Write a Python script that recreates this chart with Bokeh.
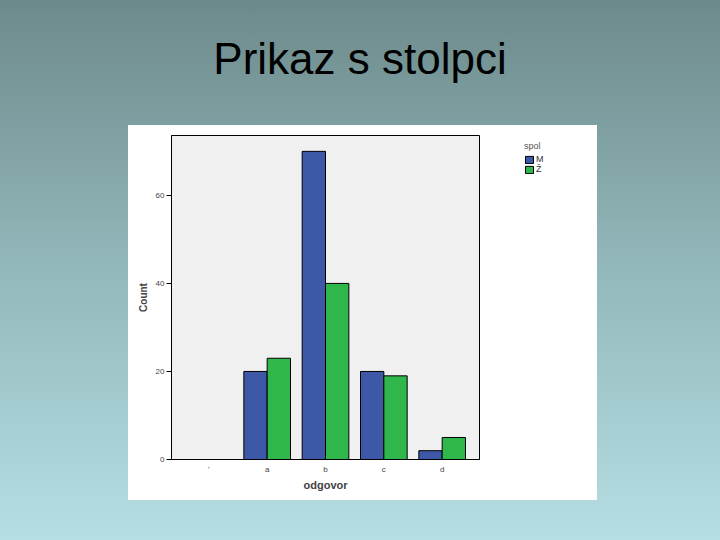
from bokeh.plotting import figure
from bokeh.models import (ColumnDataSource, FactorRange, Range1d, Legend, LegendItem,
                          Div, FixedTicker, GlobalInlineStyleSheet)
from bokeh.layouts import column, row
from bokeh.transform import dodge
from bokeh.embed import file_html
from bokeh.resources import INLINE

# ---- data ----
categories = ["'", "a", "b", "c", "d"]
counts_m = [0, 20, 70, 20, 2]
counts_z = [0, 23, 40, 19, 5]
series_names = ["M", "Ž"]
series_colors = ["#3e58a8", "#2fb74b"]
y_ticks = [0, 20, 40, 60]
title_text = "Prikaz s stolpci"
legend_title = "spol"

source = ColumnDataSource(dict(cat=categories, m=counts_m, z=counts_z))

page_css = GlobalInlineStyleSheet(css="""
html { min-height: 100%; background: linear-gradient(to bottom, #6d8a8b 0%, #93b8bb 50%, #b5dee3 100%) fixed; }
body { background: transparent; }
""")

title = Div(
    text=f'<div style="font-family:\'Liberation Sans\',Arial,sans-serif;font-size:44px;line-height:44px;'
         f'margin-top:37px;margin-left:8px;text-align:center;color:#000;width:704px;">{title_text}</div>',
    width=704, height=110, margin=0)

# ---- main chart ----
p = figure(x_range=FactorRange(factors=categories, range_padding=0.14, range_padding_units="absolute"),
           y_range=Range1d(0, 73.6),
           width=509, height=414, output_backend="svg", toolbar_location=None,
           min_border_left=171, min_border_right=30, min_border_top=25, min_border_bottom=65,
           margin=0)
p.styles = {"background": "linear-gradient(#ffffff,#ffffff) 128px 15px / 381px 375px no-repeat"}
p.border_fill_alpha = 0
p.background_fill_color = "#f0f0f0"
p.outline_line_color = "black"
p.outline_line_width = 1
p.grid.visible = False

p.vbar(x=dodge("cat", -0.2, range=p.x_range), top="m", width=0.4, source=source,
       fill_color=series_colors[0], line_color="black", line_width=1)
p.vbar(x=dodge("cat", 0.2, range=p.x_range), top="z", width=0.4, source=source,
       fill_color=series_colors[1], line_color="black", line_width=1)

p.yaxis.ticker = FixedTicker(ticks=y_ticks)
p.yaxis.minor_tick_line_color = None
p.yaxis.major_tick_out = 5
p.yaxis.major_tick_in = 0
p.yaxis.major_label_text_font_size = "8px"
p.yaxis.major_label_text_color = "#444444"
p.yaxis.major_label_text_font = "Liberation Sans"
p.yaxis.major_label_standoff = 2
p.yaxis.axis_label = "Count"
p.yaxis.axis_label_text_font = "Liberation Sans"
p.yaxis.axis_label_text_font_style = "bold"
p.yaxis.axis_label_text_font_size = "10px"
p.yaxis.axis_label_standoff = 4

p.xaxis.major_tick_line_color = None
p.xaxis.major_tick_out = 0
p.xaxis.major_tick_in = 0
p.xaxis.minor_tick_line_color = None
p.xaxis.major_label_text_font_size = "8px"
p.xaxis.major_label_text_color = "#444444"
p.xaxis.major_label_text_font = "Liberation Sans"
p.xaxis.major_label_standoff = 5
p.xaxis.axis_label = "odgovor"
p.xaxis.axis_label_text_font = "Liberation Sans"
p.xaxis.axis_label_text_font_style = "bold"
p.xaxis.axis_label_text_font_size = "11px"
p.xaxis.axis_label_standoff = 2

# ---- legend panel (white area right of the chart) ----
pl = figure(width=195, height=414, output_backend="svg", toolbar_location=None,
            x_range=Range1d(0, 1), y_range=Range1d(0, 1),
            x_axis_type=None, y_axis_type=None, min_border=0, margin=0)
pl.styles = {"background": "linear-gradient(#ffffff,#ffffff) 0px 15px / 88px 375px no-repeat"}
pl.border_fill_alpha = 0
pl.background_fill_alpha = 0
pl.outline_line_color = None
pl.grid.visible = False
# legend-key renderers, kept outside the visible range of this panel
lr_m = pl.vbar(x=[10], top=[10], bottom=[9], width=0.4, fill_color=series_colors[0], line_color="black")
lr_z = pl.vbar(x=[10], top=[10], bottom=[9], width=0.4, fill_color=series_colors[1], line_color="black")

legend = Legend(items=[LegendItem(label=series_names[0], renderers=[lr_m]),
                       LegendItem(label=series_names[1], renderers=[lr_z])],
                location=(15, 285), title=legend_title,
                title_text_font_size="9px", title_text_font="Liberation Sans",
                title_text_color="#555555", title_text_font_style="normal", title_standoff=3,
                label_text_font_size="9px", label_text_font="Liberation Sans",
                label_text_color="#333333", label_height=9, label_standoff=2,
                glyph_height=9, glyph_width=10, spacing=0, padding=0, margin=0,
                border_line_color=None, background_fill_alpha=0)
pl.add_layout(legend)

layout = column(title, row(p, pl, spacing=0, margin=0), spacing=0, margin=0)
layout.stylesheets = [page_css]

open("out.html", "w").write(file_html(layout, INLINE))
